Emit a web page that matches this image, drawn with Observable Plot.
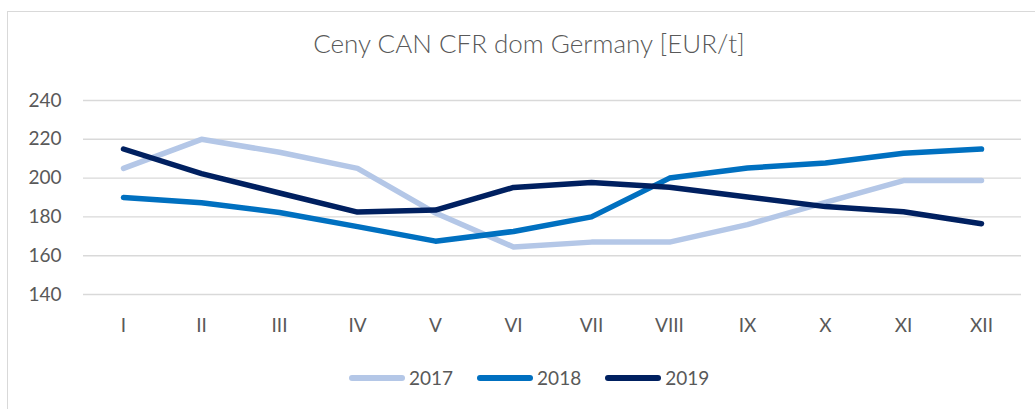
<!DOCTYPE html>
<html>
<head>
<meta charset="utf-8">
<script src="https://cdn.jsdelivr.net/npm/d3@7"></script>
<script src="https://cdn.jsdelivr.net/npm/@observablehq/plot@0.6"></script>
<style>
  body { margin: 0; background: #fff; font-family: Lato, "Open Sans", sans-serif; }
  #wrap { position: relative; width: 1035px; height: 409px; overflow: hidden; background: #fff; }
  #frame { position: absolute; left: 7px; top: 11px; width: 1200px; height: 600px; border-left: 1.5px solid #d9d9d9; border-top: 1.5px solid #d9d9d9; }
  #title { position: absolute; left: 0; top: 28px; width: 1058px; text-align: center; font-size: 26px; font-weight: 300; color: #595959; white-space: nowrap; line-height: 1.2; }
  #chart { position: absolute; left: 0; top: 0; }
  #legend { position: absolute; left: 349px; top: 366px; display: flex; align-items: center; font-size: 19px; color: #595959; }
  .item { display: flex; align-items: center; margin-right: 24px; }
  .sw { width: 56px; height: 6px; border-radius: 3px; margin-right: 4px; }
</style>
</head>
<body>
<div id="wrap">
  <div id="frame"></div>
  <div id="title"></div>
  <div id="chart"></div>
  <div id="legend"></div>
</div>
<script>
const titleText = "Ceny CAN CFR dom Germany [EUR/t]";
const months = ["I", "II", "III", "IV", "V", "VI", "VII", "VIII", "IX", "X", "XI", "XII"];
const years = ["2017", "2018", "2019"];
const colors = ["#B4C7E7", "#0070C0", "#002060"];
const v2017 = [205, 220, 213.3, 205, 182, 164.5, 167, 167, 176, 187.5, 198.7, 198.7];
const v2018 = [190, 187.3, 182.3, 175, 167.5, 172.5, 180, 200, 205.2, 207.8, 212.8, 215];
const v2019 = [215, 202.3, 192.3, 182.5, 183.5, 195.2, 197.7, 195.3, 190.3, 185.3, 182.7, 176.5];
const yTicks = [140, 160, 180, 200, 220, 240];

const seriesValues = [v2017, v2018, v2019];
const data = [];
years.forEach((yr, i) => months.forEach((m, j) => data.push({year: yr, month: m, value: seriesValues[i][j]})));

document.getElementById("title").textContent = titleText;

const chart = Plot.plot({
  width: 1035,
  height: 409,
  marginTop: 100,
  marginBottom: 115,
  marginLeft: 83,
  marginRight: 14,
  style: { fontFamily: "Lato, 'Open Sans', sans-serif", fontSize: "19px", color: "#595959", background: "transparent" },
  x: { type: "point", domain: months, padding: 0.5, label: null },
  y: { domain: [140, 240], ticks: yTicks, label: null },
  color: { domain: years, range: colors },
  marks: [
    Plot.gridY(yTicks, { stroke: "#d9d9d9", strokeOpacity: 1, strokeWidth: 1.4 }),
    Plot.axisY(yTicks, { tickSize: 0, tickPadding: 22, fontSize: 19, fill: "#595959" }),
    Plot.axisX({ tickSize: 0, tickPadding: 24, fontSize: 19, fill: "#595959" }),
    Plot.line(data, { x: "month", y: "value", z: "year", stroke: "year", strokeWidth: 5.5, strokeLinecap: "round", strokeLinejoin: "round" })
  ]
});
document.getElementById("chart").appendChild(chart);

const legend = document.getElementById("legend");
years.forEach((yr, i) => {
  const it = document.createElement("div");
  it.className = "item";
  const sw = document.createElement("div");
  sw.className = "sw";
  sw.style.background = colors[i];
  const t = document.createElement("span");
  t.textContent = yr;
  it.appendChild(sw); it.appendChild(t);
  legend.appendChild(it);
});
</script>
</body>
</html>
